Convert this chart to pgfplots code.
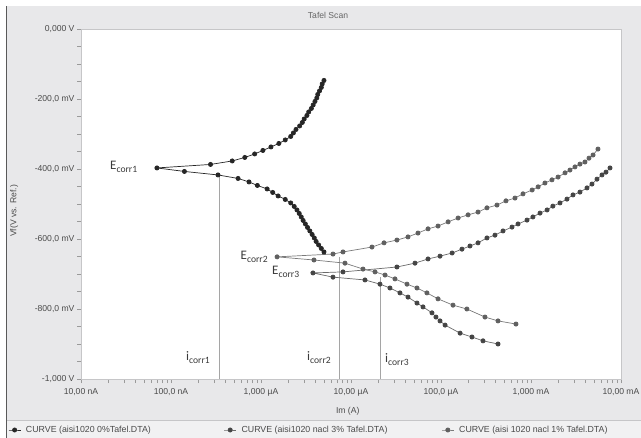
\documentclass[border=0pt]{standalone}
\usepackage{pgfplots}
\pgfplotsset{compat=1.18}
\usepackage{fontspec}
\setmainfont{Liberation Sans}
\newfontfamily\calibfont{Carlito}

\definecolor{panel}{HTML}{E8E8EA}
\definecolor{legendbg}{HTML}{F1F1F2}
\definecolor{framegray}{HTML}{C6C6C8}
\definecolor{tickgray}{HTML}{9A9A9A}
\definecolor{labelgray}{HTML}{4A4A4A}
\definecolor{annot}{HTML}{3A3A3A}
\definecolor{cZero}{HTML}{262626}
\definecolor{cThree}{HTML}{454545}
\definecolor{cOne}{HTML}{606060}
\definecolor{lineThree}{HTML}{6A6A6A}
\definecolor{lineOne}{HTML}{7A7A7A}
\definecolor{icorrline}{HTML}{A5A5A5}

\newcommand\tickfont{\fontsize{8.6bp}{10bp}\selectfont}
\newcommand\legfont{\fontsize{8.8bp}{10bp}\selectfont}
\newcommand\Elabel[1]{{\calibfont\fontsize{13bp}{14bp}\selectfont E\raisebox{-2.6bp}{\fontsize{9.6bp}{10bp}\selectfont #1}}}
\newcommand\Ilabel[1]{{\calibfont\fontsize{13bp}{14bp}\selectfont i\raisebox{-2.6bp}{\fontsize{9.6bp}{10bp}\selectfont #1}}}

\begin{document}
\begin{tikzpicture}
% window background
\fill[white] (0,0) rectangle (641bp,438bp);
\fill[panel] (6bp,18bp) rectangle (641bp,432bp);
\fill[legendbg] (6bp,0bp) rectangle (641bp,18bp);
\draw[framegray, line width=0.8bp] (6bp,18bp) -- (641bp,18bp);
\draw[black!65, line width=1bp] (6bp,0bp) -- (6bp,432bp);
\node[font=\tickfont, text=black!60] at (328bp,423bp) {Tafel Scan};

\begin{axis}[
  at={(81bp,59bp)}, anchor=south west,
  scale only axis, width=540bp, height=350bp,
  xmode=log, log basis x=10,
  xmin=1e-8, xmax=1e-2, ymin=-1000, ymax=0,
  axis background/.style={fill=white},
  axis line style={draw=framegray, line width=0.7bp},
  tick pos=left, tick align=outside,
  major tick length=4bp, minor tick length=4bp,
  tick style={draw=tickgray, line width=0.6bp},
  xtick={1e-8,1e-7,1e-6,1e-5,1e-4,1e-3,1e-2},
  xticklabels={{10,00 nA},{100,0 nA},{1,000 µA},{10,00 µA},{100,0 µA},{1,000 mA},{10,00 mA}},
  minor xtick={2e-8,3e-8,4e-8,5e-8,6e-8,7e-8,8e-8,9e-8,
               2e-7,3e-7,4e-7,5e-7,6e-7,7e-7,8e-7,9e-7,
               2e-6,3e-6,4e-6,5e-6,6e-6,7e-6,8e-6,9e-6,
               2e-5,3e-5,4e-5,5e-5,6e-5,7e-5,8e-5,9e-5,
               2e-4,3e-4,4e-4,5e-4,6e-4,7e-4,8e-4,9e-4,
               2e-3,3e-3,4e-3,5e-3,6e-3,7e-3,8e-3,9e-3},
  ytick={-1000,-800,-600,-400,-200,0},
  yticklabels={{-1,000 V},{-800,0 mV},{-600,0 mV},{-400,0 mV},{-200,0 mV},{0,000 V}},
  minor ytick={-950,-900,-850,-750,-700,-650,-550,-500,-450,-350,-300,-250,-150,-100,-50},
  ticklabel style={font=\tickfont, text=labelgray},
  xticklabel style={yshift=-2bp},
  yticklabel style={xshift=1bp},
  xlabel={Im (A)}, ylabel={Vf(V vs. Ref.)},
  label style={font=\tickfont, text=labelgray},
  xlabel style={at={(axis description cs:0.494,-0.0914)}, anchor=center},
  ylabel style={at={(axis description cs:-0.124,0.48)}, anchor=center},
  legend columns=3,
  legend cell align=left,
  legend style={
    at={(axis description cs:-0.135,-0.1457)}, anchor=west,
    draw=none, fill=none, inner sep=0pt,
    font=\legfont, text=labelgray,
    nodes={inner sep=0pt},
    /tikz/every odd column/.append style={column sep=5bp},
    /tikz/column 2/.append style={column sep=73bp},
    /tikz/column 4/.append style={column sep=54bp},
  },
  legend image code/.code={
    \draw[#1, mark repeat=2, mark phase=2] plot coordinates {(0bp,0bp) (6bp,0bp) (12bp,0bp)};
  },
]

% corrosion current markers
\addplot[icorrline, line width=0.6bp, forget plot] coordinates {(3.41e-7,-417) (3.41e-7,-1000)};
\addplot[icorrline, line width=0.6bp, forget plot] coordinates {(7.36e-6,-651) (7.36e-6,-1000)};
\addplot[icorrline, line width=0.6bp, forget plot] coordinates {(2.10e-5,-709) (2.10e-5,-1000)};

% aisi1020, 0 %
\addplot[draw=cZero, line width=0.7bp, mark=*, mark size=2.1bp, mark options={solid, fill=cZero, draw=cZero}]
coordinates {
(5.01e-6,-637) (4.68e-6,-627) (4.37e-6,-617) (4.10e-6,-607) (3.91e-6,-597) (3.70e-6,-587)
(3.49e-6,-577) (3.29e-6,-567) (3.11e-6,-557) (2.94e-6,-547) (2.80e-6,-537) (2.66e-6,-527)
(2.51e-6,-517) (2.34e-6,-507) (2.14e-6,-497) (1.86e-6,-487) (1.55e-6,-477) (1.35e-6,-467)
(1.17e-6,-457) (9.12e-7,-447) (7.36e-7,-437) (5.56e-7,-427) (3.33e-7,-417) (1.41e-7,-407)
(6.98e-8,-397)
(2.75e-7,-387) (4.79e-7,-377) (6.61e-7,-367) (8.51e-7,-357) (1.05e-6,-347) (1.29e-6,-337)
(1.58e-6,-327) (1.86e-6,-317) (2.14e-6,-307) (2.29e-6,-297) (2.45e-6,-287) (2.69e-6,-277)
(2.88e-6,-267) (3.02e-6,-257) (3.24e-6,-247) (3.39e-6,-237) (3.63e-6,-227) (3.80e-6,-217)
(3.98e-6,-207) (4.17e-6,-197) (4.27e-6,-187) (4.47e-6,-177) (4.68e-6,-167) (4.79e-6,-157)
(5.01e-6,-147)
};
\addlegendentry{CURVE (aisi1020 0\%Tafel.DTA)}

% aisi1020, NaCl 3 %
\addplot[draw=lineThree, line width=0.7bp, mark=*, mark size=2.1bp, mark options={solid, fill=cThree, draw=cThree}]
coordinates {
(4.30e-4,-900) (2.93e-4,-891) (2.21e-4,-880) (1.63e-4,-869) (1.11e-4,-846) (9.75e-5,-834)
(8.79e-5,-823) (7.94e-5,-811) (6.31e-5,-794) (5.41e-5,-783) (4.30e-5,-766) (3.50e-5,-754)
(2.71e-5,-740) (2.10e-5,-729) (1.43e-5,-717) (6.31e-6,-709)
(3.78e-6,-697)
(8.15e-6,-694) (3.24e-5,-680) (5.14e-5,-669) (7.18e-5,-657) (9.75e-5,-649) (1.33e-4,-640)
(1.71e-4,-629) (2.10e-4,-620) (2.58e-4,-611) (3.24e-4,-597) (3.98e-4,-589) (4.89e-4,-577)
(6.15e-4,-566) (7.18e-4,-557) (9.03e-4,-546) (1.05e-3,-537) (1.26e-3,-526) (1.51e-3,-517)
(1.75e-3,-506) (2.10e-3,-497) (2.51e-3,-486) (2.93e-3,-474) (3.50e-3,-466) (4.19e-3,-454)
(4.76e-3,-443) (5.41e-3,-429) (6.15e-3,-417) (6.81e-3,-409) (7.55e-3,-397)
};
\addlegendentry{CURVE (aisi1020 nacl 3\% Tafel.DTA)}

% aisi 1020, NaCl 1 %
\addplot[draw=lineOne, line width=0.7bp, mark=*, mark size=2.1bp, mark options={solid, fill=cOne, draw=cOne}]
coordinates {
(6.81e-4,-843) (4.30e-4,-834) (3.08e-4,-823) (1.94e-4,-800) (1.36e-4,-789) (9.27e-5,-771)
(6.98e-5,-754) (5.41e-5,-740) (4.19e-5,-729) (3.08e-5,-714) (2.39e-5,-703) (1.85e-5,-694)
(1.36e-5,-686) (8.57e-6,-669) (3.88e-6,-660)
(1.51e-6,-651)
(6.31e-6,-643) (8.15e-6,-637) (1.71e-5,-623) (2.33e-5,-611) (3.24e-5,-603) (4.30e-5,-594)
(5.55e-5,-583) (7.18e-5,-571) (9.27e-5,-563) (1.20e-4,-551) (1.55e-4,-540) (2.00e-4,-531)
(2.58e-4,-523) (3.24e-4,-511) (4.19e-4,-503) (5.27e-4,-491) (6.64e-4,-483) (8.15e-4,-471)
(1.03e-3,-460) (1.20e-3,-451) (1.43e-3,-440) (1.71e-3,-431) (2.00e-3,-423) (2.39e-3,-411)
(2.71e-3,-403) (3.08e-3,-394) (3.50e-3,-386) (3.98e-3,-380) (4.41e-3,-369) (4.89e-3,-360)
(5.55e-3,-343)
};
\addlegendentry{CURVE (aisi 1020 nacl 1\% Tafel.DTA)}
\end{axis}

% annotations
\node[anchor=base west, text=annot, inner sep=0pt] at (110bp,268bp) {\Elabel{corr1}};
\node[anchor=base west, text=annot, inner sep=0pt] at (240.5bp,178bp) {\Elabel{corr2}};
\node[anchor=base west, text=annot, inner sep=0pt] at (272bp,163bp) {\Elabel{corr3}};
\node[anchor=base west, text=annot, inner sep=0pt] at (186bp,77bp) {\Ilabel{corr1}};
\node[anchor=base west, text=annot, inner sep=0pt] at (307bp,77bp) {\Ilabel{corr2}};
\node[anchor=base west, text=annot, inner sep=0pt] at (385bp,75bp) {\Ilabel{corr3}};

\pgfresetboundingbox
\path (0,0) rectangle (641bp,438bp);
\end{tikzpicture}
\end{document}
